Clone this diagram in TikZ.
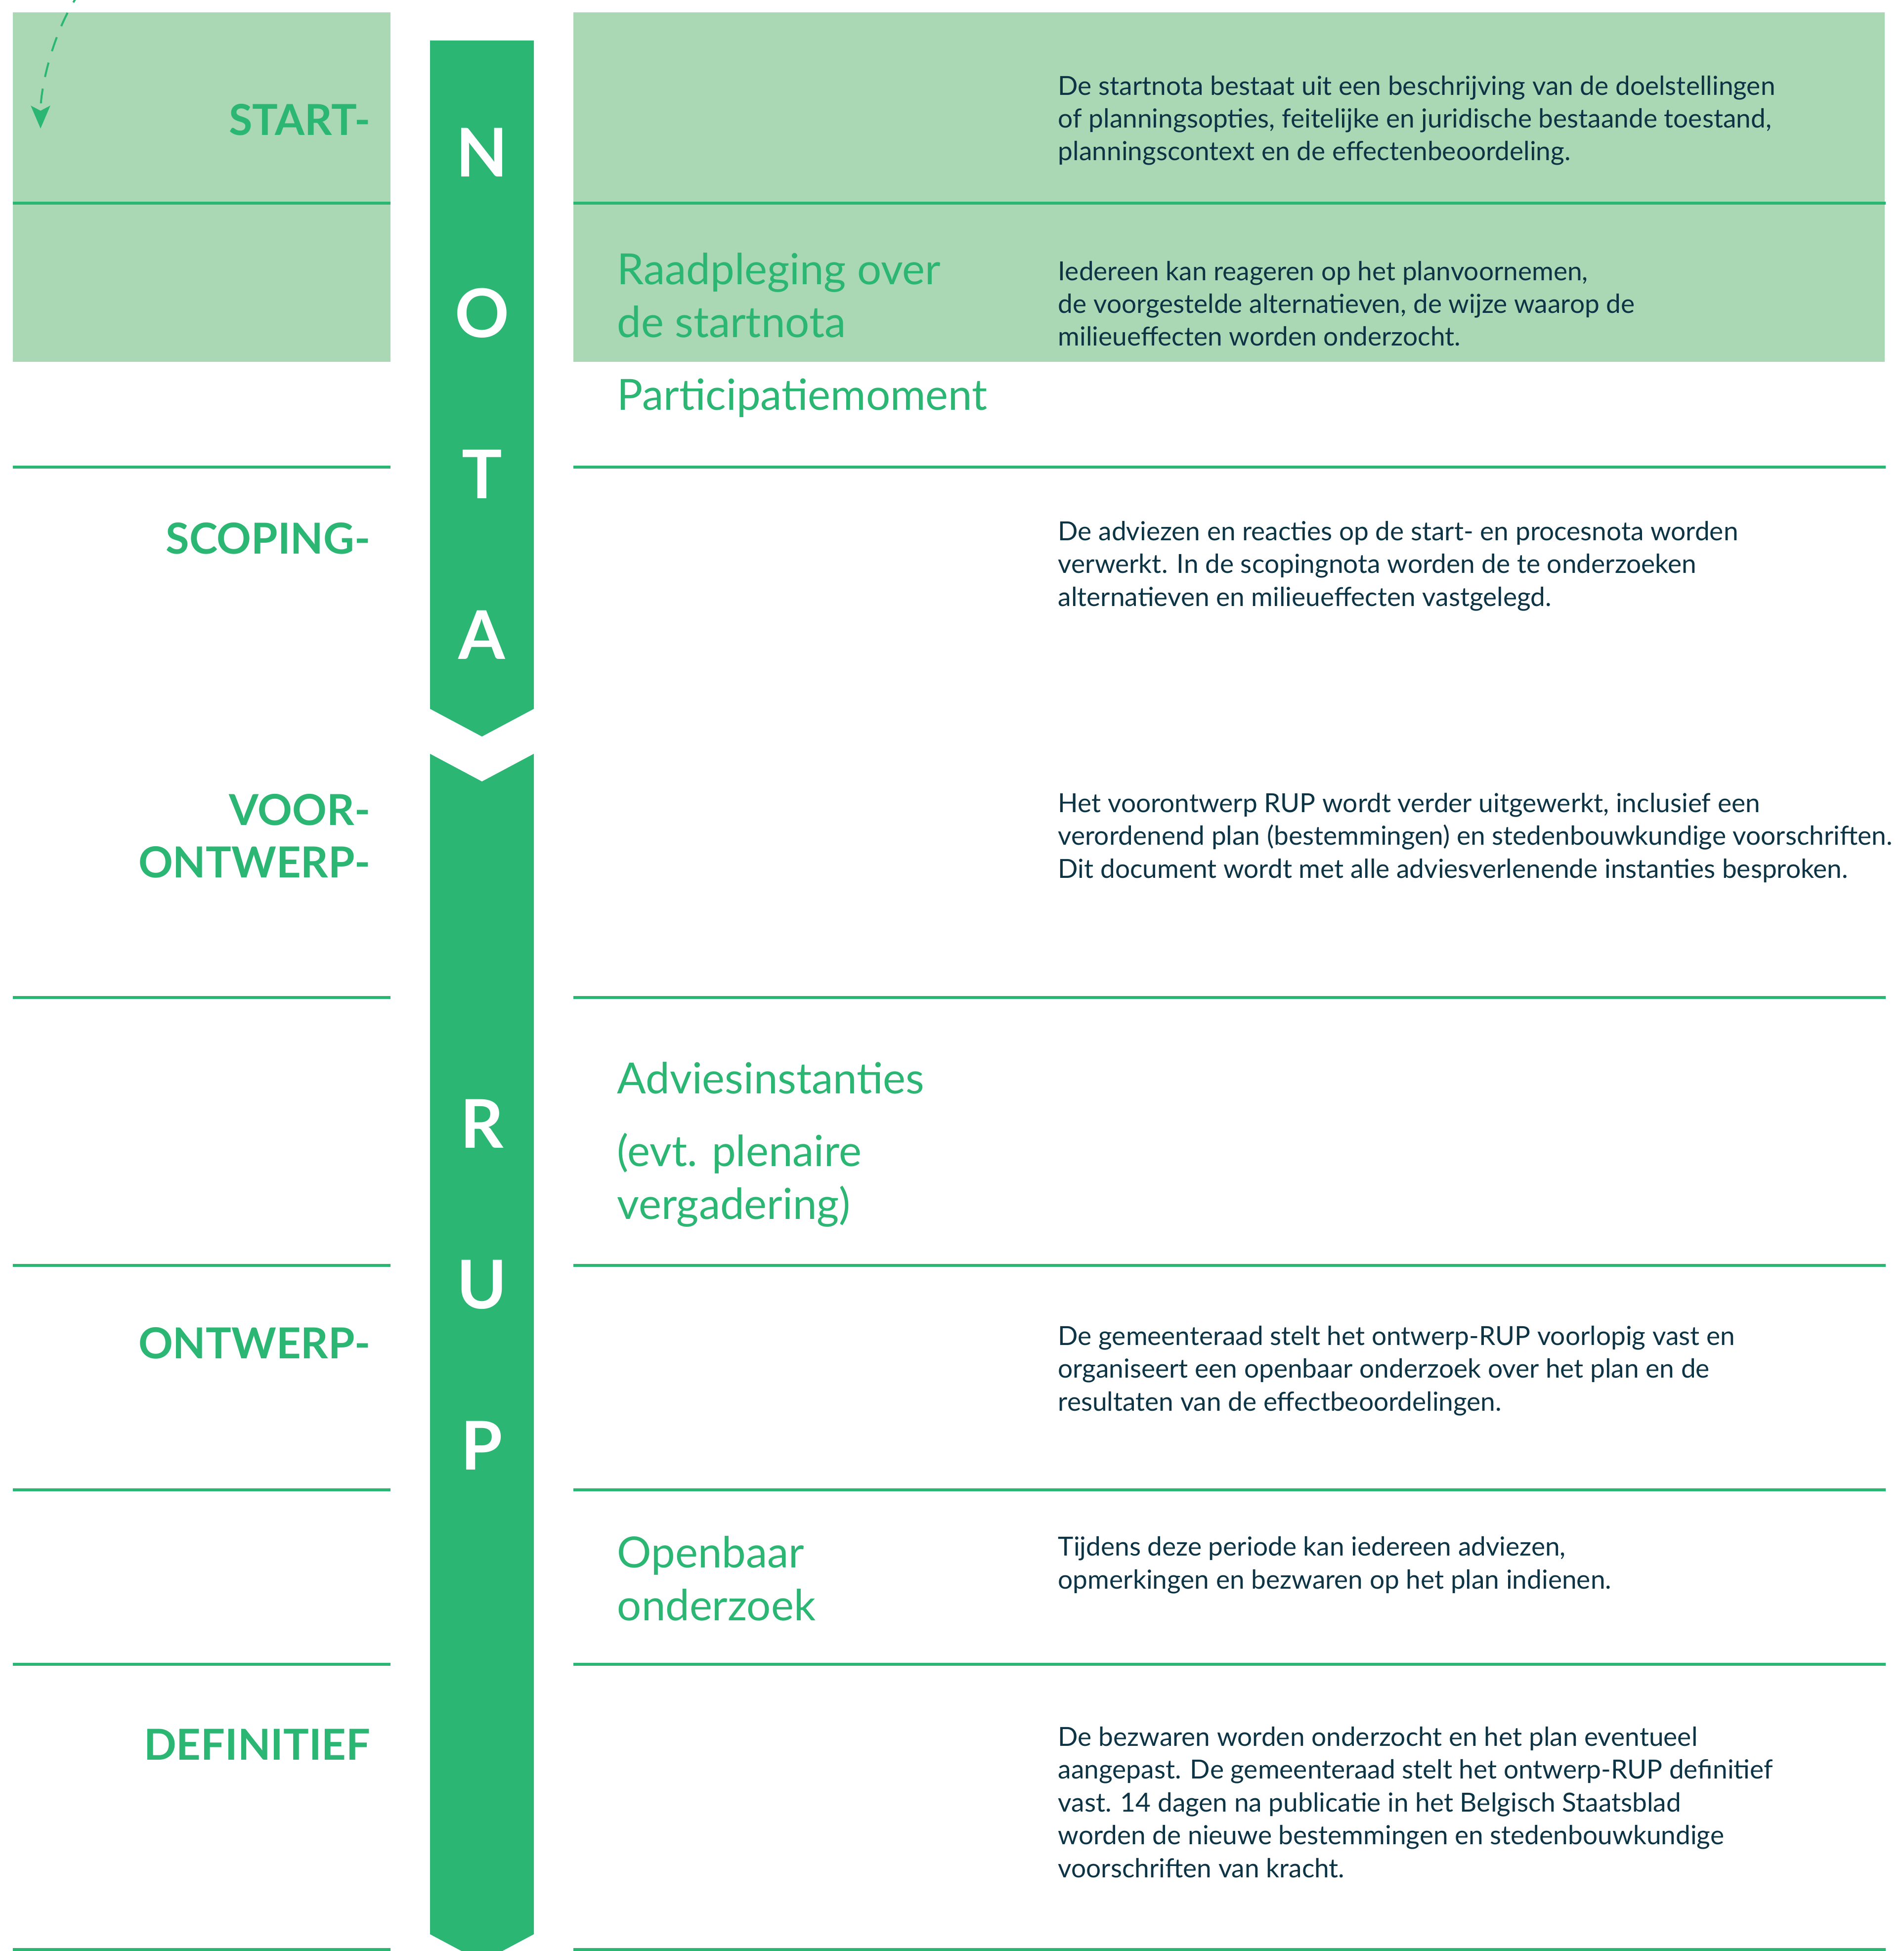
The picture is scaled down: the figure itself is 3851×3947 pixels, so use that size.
\documentclass[tikz,border=0pt]{standalone}
\usepackage{fontspec}
\setmainfont{Lato}
\usetikzlibrary{arrows.meta}
\definecolor{rupgreen}{HTML}{2BB673}
\definecolor{paleg}{HTML}{AAD8B4}
\definecolor{inkt}{HTML}{0D3444}

\begin{document}
\begin{tikzpicture}[x=0.25pt,y=-0.25pt,
    phase/.style={anchor=base east,align=right,inner sep=0,text=rupgreen,font=\fontsize{21.6}{26.5}\selectfont\bfseries},
    moment/.style={anchor=base west,align=left,inner sep=0,text=rupgreen,font=\fontsize{21.7}{26.75}\selectfont},
    uitleg/.style={anchor=base west,align=left,inner sep=0,text=inkt,font=\fontsize{13.3}{16.6}\selectfont},
    letter/.style={text=white,inner sep=0,font=\fontsize{34}{34}\selectfont\bfseries},
    scheiding/.style={rupgreen,line width=1.5pt}]
    \useasboundingbox(0,0)rectangle(3851,3947);
    \fill[paleg](26,25)rectangle(790,732);
    \fill[paleg](1160,25)rectangle(3813,732);
    \foreach \yy in {411,945,2018,2560,3014,3367,3944}{
        \draw[scheiding](26,\yy)--(790,\yy);
        \draw[scheiding](1160,\yy)--(3815,\yy);
    }
    % de pijl NOTA / RUP
    \fill[rupgreen](870,82)--(1080,82)--(1080,1434)--(975,1490)--(870,1434)--cycle;
    \fill[rupgreen](870,1525)--(975,1581)--(1080,1525)--(1080,3913)--(975,3969)--(870,3913)--cycle;
    \foreach \ch/\yy [count=\i] in {N/308,O/633,T/959,A/1284,R/2273,U/2599,P/2924}
        \node[letter](l\i)at(975,\yy){\ch};
    % fasen (base = laatste regel)
    \node[phase](start)at(750,274){START-};
    \node[phase](scoping)at(750,1120){SCOPING-};
    \node[phase](voor)at(750,1775){VOOR-\\ONTWERP-};
    \node[phase](ontwerp)at(750,2748){ONTWERP-};
    \node[phase](definitief)at(750,3560){DEFINITIEF};
    % momenten
    \node[moment](raadpleging)at(1248,683){Raadpleging over\\de startnota};
    \node[moment](participatie)at(1248,830){Participatiemoment};
    \node[moment](advies)at(1248,2212){Adviesinstanties};
    \node[moment](plenair)at(1248,2466){(evt. plenaire\\vergadering)};
    \node[moment](openbaar)at(1248,3278){Openbaar\\onderzoek};
    % uitleg
    \node[uitleg](u1)at(2140,325){De startnota bestaat uit een beschrijving van de doelstellingen\\of planningsopties, feitelijke en juridische bestaande toestand,\\planningscontext en de effectenbeoordeling.};
    \node[uitleg](u2)at(2140,700){Iedereen kan reageren op het planvoornemen,\\de voorgestelde alternatieven, de wijze waarop de\\milieueffecten worden onderzocht.};
    \node[uitleg](u3)at(2140,1226){De adviezen en reacties op de start- en procesnota worden\\verwerkt. In de scopingnota worden de te onderzoeken\\alternatieven en milieueffecten vastgelegd.};
    \node[uitleg](u4)at(2140,1776){Het voorontwerp RUP wordt verder uitgewerkt, inclusief een\\verordenend plan (bestemmingen) en stedenbouwkundige voorschriften.\\Dit document wordt met alle adviesverlenende instanties besproken.};
    \node[uitleg](u5)at(2140,2854){De gemeenteraad stelt het ontwerp-RUP voorlopig vast en\\organiseert een openbaar onderzoek over het plan en de\\resultaten van de effectbeoordelingen.};
    \node[uitleg](u6)at(2140,3214){Tijdens deze periode kan iedereen adviezen,\\opmerkingen en bezwaren op het plan indienen.};
    \node[uitleg](u7)at(2140,3798){De bezwaren worden onderzocht en het plan eventueel\\aangepast. De gemeenteraad stelt het ontwerp-RUP definitief\\vast. 14 dagen na publicatie in het Belgisch Staatsblad\\worden de nieuwe bestemmingen en stedenbouwkundige\\voorschriften van kracht.};
    % gestippelde pijl
    \coordinate(boven)at(165,-20);
    \coordinate(pijlpunt)at(82,260);
    \draw[rupgreen,line width=1pt,dash pattern=on 7.5pt off 6pt,-{Stealth[length=11.5pt,width=9.75pt,inset=2.5pt]}](boven)..controls(112,50)and(82,170)..(pijlpunt);
\end{tikzpicture}
\end{document}
